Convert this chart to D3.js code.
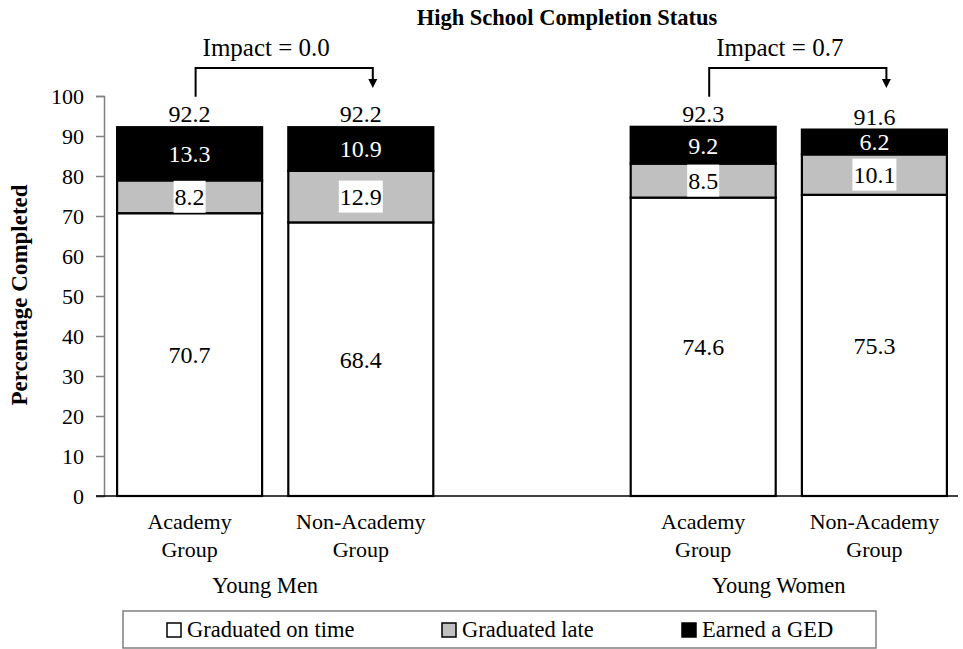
<!DOCTYPE html>
<html>
<head>
<meta charset="utf-8">
<script src="https://cdn.jsdelivr.net/npm/d3@7"></script>
<style>
  body { margin: 0; background: #fff; }
</style>
</head>
<body>
<svg id="chart" width="963" height="649"></svg>
<script>
// data
var groups = ["Young Men", "Young Women"];
var categories = ["Men Academy", "Men Non-Academy", "gap", "Women Academy", "Women Non-Academy"];
var barCats = ["Men Academy", "Men Non-Academy", "Women Academy", "Women Non-Academy"];
var barGroup = ["Young Men", "Young Men", "Young Women", "Young Women"];
var barLabels = [["Academy", "Group"], ["Non-Academy", "Group"], ["Academy", "Group"], ["Non-Academy", "Group"]];
var onTime = [70.7, 68.4, 74.6, 75.3];
var late = [8.2, 12.9, 8.5, 10.1];
var ged = [13.3, 10.9, 9.2, 6.2];
var totals = [92.2, 92.2, 92.3, 91.6];
var impacts = ["0.0", "0.7"];
var seriesNames = ["Graduated on time", "Graduated late", "Earned a GED"];
var seriesColors = ["#ffffff", "#c0c0c0", "#000000"];
var yTicks = [0, 10, 20, 30, 40, 50, 60, 70, 80, 90, 100];

var FONT = "Liberation Serif";

var svg = d3.select("#chart").style("font-family", FONT);

var x = d3.scaleBand()
    .domain(categories)
    .range([104, 960])
    .paddingInner(0.153)
    .paddingOuter(0.0765);

var y = d3.scaleLinear()
    .domain([0, 100])
    .range([496, 96]);

function addText(sel) {
  return sel.append("text").style("font-family", FONT);
}

// title
addText(svg)
    .attr("x", 567).attr("y", 25)
    .attr("text-anchor", "middle")
    .style("font-size", "22.5px").style("font-weight", "bold")
    .text("High School Completion Status");

// y axis
var yAxis = svg.append("g")
    .attr("transform", "translate(104,0)")
    .call(d3.axisLeft(y).tickValues(yTicks).tickSize(8).tickPadding(12));
yAxis.attr("font-family", null).attr("font-size", null);
yAxis.select(".domain").attr("stroke", "#808080").attr("stroke-width", 1.5);
yAxis.selectAll(".tick line").attr("stroke", "#808080").attr("stroke-width", 1.5);
yAxis.selectAll(".tick text")
    .style("font-size", "22px")
    .style("font-family", FONT)
    .attr("fill", "#000");

addText(svg)
    .attr("transform", "translate(27,295) rotate(-90)")
    .attr("text-anchor", "middle")
    .style("font-size", "23px").style("font-weight", "bold")
    .text("Percentage Completed");

// x axis line
svg.append("line")
    .attr("x1", 96).attr("x2", 958)
    .attr("y1", y(0)).attr("y2", y(0))
    .attr("stroke", "#000").attr("stroke-width", 1.5);

// stacked bars
var stackRows = barCats.map(function(c, i) {
  return {cat: c, onTime: onTime[i], late: late[i], ged: ged[i]};
});
var stack = d3.stack().keys(["onTime", "late", "ged"]);
var layers = stack(stackRows);

var layerG = svg.selectAll(".layer")
    .data(layers)
  .enter().append("g")
    .attr("class", "layer")
    .attr("fill", function(d, i) { return seriesColors[i]; });

layerG.selectAll("rect")
    .data(function(d) { return d; })
  .enter().append("rect")
    .attr("x", function(d) { return x(d.data.cat); })
    .attr("width", x.bandwidth())
    .attr("y", function(d) { return y(d[1]); })
    .attr("height", function(d) { return y(d[0]) - y(d[1]); })
    .attr("stroke", "#000")
    .attr("stroke-width", 2.2);

// segment labels (gray ones get a white box, width from digit count)
layers.forEach(function(layer, li) {
  layer.forEach(function(d) {
    var cx = x(d.data.cat) + x.bandwidth() / 2;
    var cy = y((d[0] + d[1]) / 2);
    var label = (d[1] - d[0]).toFixed(1);
    if (li == 1) {
      var w = ((label.length - 1) * 0.5 + 0.25) * 24 + 2;
      svg.append("rect")
          .attr("x", cx - w / 2).attr("y", cy - 16)
          .attr("width", w).attr("height", 32)
          .attr("fill", "#fff");
    }
    addText(svg)
        .attr("x", cx).attr("y", cy)
        .attr("dy", "0.35em")
        .attr("text-anchor", "middle")
        .style("font-size", "24px")
        .attr("fill", li == 2 ? "#fff" : "#000")
        .text(label);
  });
});

// totals above bars
svg.selectAll(".total")
    .data(totals)
  .enter().append("text")
    .attr("class", "total")
    .style("font-family", FONT)
    .attr("x", function(d, i) { return x(barCats[i]) + x.bandwidth() / 2; })
    .attr("y", function(d) { return y(d) - 5; })
    .attr("text-anchor", "middle")
    .style("font-size", "24px")
    .text(function(d) { return d.toFixed(1); });

// category labels
barCats.forEach(function(c, i) {
  var t = addText(svg)
      .attr("x", x(c) + x.bandwidth() / 2)
      .attr("y", 529)
      .attr("text-anchor", "middle")
      .style("font-size", "22px");
  barLabels[i].forEach(function(line, j) {
    t.append("tspan")
        .attr("x", x(c) + x.bandwidth() / 2)
        .attr("dy", j == 0 ? 0 : 28)
        .text(line);
  });
});

// group labels
groups.forEach(function(g) {
  var cats = barCats.filter(function(c, i) { return barGroup[i] == g; });
  var cx = (x(cats[0]) + x(cats[1]) + x.bandwidth()) / 2 - 10;
  addText(svg)
      .attr("x", cx).attr("y", 593)
      .attr("text-anchor", "middle")
      .style("font-size", "22.5px")
      .text(g);
});

// impact brackets
groups.forEach(function(g, gi) {
  var cats = barCats.filter(function(c, i) { return barGroup[i] == g; });
  var x1 = x(cats[0]) + x.bandwidth() / 2 + 6;
  var x2 = x(cats[1]) + x.bandwidth() / 2 + 12;
  var top = y(107);
  svg.append("path")
      .attr("d", "M" + x1 + "," + y(99.8) + "V" + top + "H" + x2 + "V" + (y(102) - 8))
      .attr("fill", "none")
      .attr("stroke", "#000")
      .attr("stroke-width", 2);
  svg.append("path")
      .attr("d", "M" + (x2 - 4.5) + "," + (y(102) - 9) + "L" + (x2 + 4.5) + "," + (y(102) - 9) + "L" + x2 + "," + y(102) + "Z")
      .attr("fill", "#000");
  addText(svg)
      .attr("x", (x1 + x2) / 2 - 18)
      .attr("y", top - 12)
      .attr("text-anchor", "middle")
      .style("font-size", "25px")
      .text("Impact = " + impacts[gi]);
});

// legend
var legend = svg.append("g");
legend.append("rect")
    .attr("x", 123).attr("y", 611)
    .attr("width", 753).attr("height", 37)
    .attr("fill", "#fff")
    .attr("stroke", "#808080")
    .attr("stroke-width", 1.5);
var legendX = [167, 442, 682];
seriesNames.forEach(function(name, i) {
  legend.append("rect")
      .attr("x", legendX[i]).attr("y", 623)
      .attr("width", 14).attr("height", 14)
      .attr("fill", seriesColors[i])
      .attr("stroke", "#000")
      .attr("stroke-width", 1.5);
  addText(legend)
      .attr("x", legendX[i] + 20).attr("y", 637)
      .style("font-size", "22.5px")
      .text(name);
});
</script>
</body>
</html>
